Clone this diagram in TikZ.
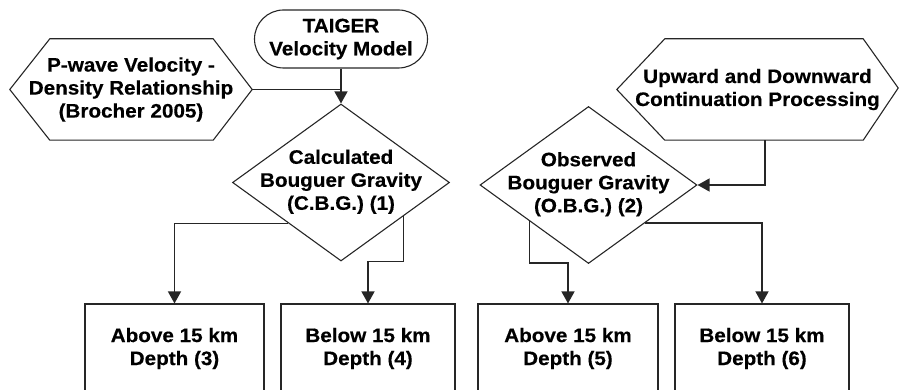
\documentclass[tikz,border=0pt]{standalone}
\usepackage{fontspec}
\setmainfont{Liberation Sans}[FakeStretch=1.06, BoldFeatures={FakeBold=0.4}]
\usetikzlibrary{shapes.geometric,arrows.meta,calc}
\newcommand\ztext[1]{\makebox[0pt]{\raisebox{-0.25em}[0pt][0pt]{\begin{tabular}{@{}c@{}}#1\end{tabular}}}}
\begin{document}
\begin{tikzpicture}[x=1pt,y=-1pt,
  every node/.style={font=\fontsize{19.5}{23}\selectfont\bfseries, align=center, inner sep=0pt},
  shapeline/.style={draw=black!85, line width=1.1pt},
  hexnode/.style={minimum height=101pt},
  boxnode/.style={shapeline, rectangle, minimum height=89pt},
  dianode/.style={shapeline, diamond, minimum width=217pt, minimum height=157pt},
  arr/.style={draw=black!85, line width=1.4pt, -{Triangle[length=12pt,width=13pt]}},
  conn/.style={draw=black!85, line width=1.4pt}]
\useasboundingbox (0,0) rectangle (899,390);
\clip (0,0) rectangle (899,390);

% top nodes
\node[shapeline, rounded corners=29pt, minimum width=173pt, minimum height=58pt] (tai) at (341,39) {TAIGER\\Velocity Model};
\node[hexnode, minimum width=242pt] (pw) at (131,89.5) {P-wave Velocity -\\Density Relationship\\(Brocher 2005)};
\draw[shapeline] (pw.west) -- ([xshift=40pt]pw.north west) -- ([xshift=-39pt]pw.north east) -- (pw.east)
  -- ([xshift=-39pt]pw.south east) -- ([xshift=40pt]pw.south west) -- cycle;
\node[hexnode, minimum width=281pt] (up) at (757.5,89.5) {Upward and Downward\\Continuation Processing};
\draw[shapeline] (up.west) -- ([xshift=48pt]up.north west) -- ([xshift=-35pt]up.north east) -- ([yshift=1.5pt]up.east)
  -- ([xshift=-35pt]up.south east) -- ([xshift=48pt]up.south west) -- cycle;

% diamonds
\node[dianode] (cbg) at (341,182.5) {\ztext{Calculated\\Bouguer Gravity\\(C.B.G.) (1)}};
\node[dianode] (obg) at (588.5,185) {\ztext{Observed\\Bouguer Gravity\\(O.B.G.) (2)}};

% bottom boxes
\node[boxnode, minimum width=179pt] (b3) at (174.5,348.5) {Above 15 km\\Depth (3)};
\node[boxnode, minimum width=174pt] (b4) at (368,348.5) {Below 15 km\\Depth (4)};
\node[boxnode, minimum width=180pt] (b5) at (568,348.5) {Above 15 km\\Depth (5)};
\node[boxnode, minimum width=174pt] (b6) at (762,348.5) {Below 15 km\\Depth (6)};

% connectors
\draw[arr] (tai.south) -- (cbg.north);
\draw[conn] (pw.east) -- (pw.east -| cbg.north);
\draw[arr] ([xshift=7.5pt]up.south) |- (obg.east);

\coordinate (s3) at ($(cbg.west)!0.516!(cbg.south)$);
\coordinate (s4) at ($(cbg.east)!0.427!(cbg.south)$);
\coordinate (s5) at ($(obg.west)!0.461!(obg.south)$);
\coordinate (s6) at ($(obg.east)!0.479!(obg.south)$);

\draw[arr] (s3) -| (b3.north);
\draw[arr] (s4) -- (s4 |- cbg.south) -| (b4.north);
\draw[arr] (s5) -- ([yshift=1pt]s5 |- obg.south) -| (b5.north);
\draw[arr] (s6) -| (b6.north);
\end{tikzpicture}
\end{document}
